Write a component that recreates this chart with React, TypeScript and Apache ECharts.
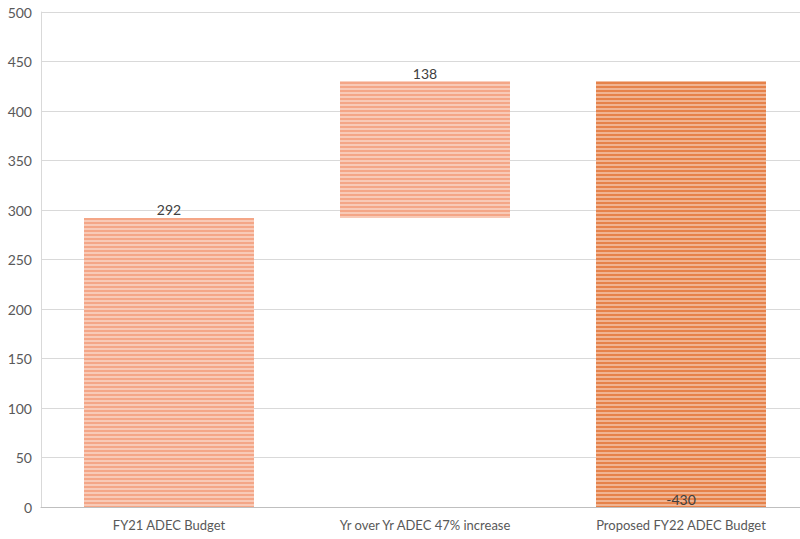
import React, { useEffect, useRef } from "react";
import * as echarts from "echarts";

const categories = ["FY21 ADEC Budget", "Yr over Yr ADEC 47% increase", "Proposed FY22 ADEC Budget"];
const baseValues = [0, 292, 0];
const barValues = [292, 138, 430];
const topLabels = ["292", "138", ""];
const bottomLabels = ["", "", "-430"];
const yTicks = { min: 0, max: 500, interval: 50 };

const lightFill = "#F4A687";
const darkFill = "#E6824A";

export default function App() {
  const ref = useRef<HTMLDivElement>(null);
  useEffect(() => {
    if (!ref.current) return;
    const chart = echarts.init(ref.current, null, { renderer: "svg" });
    const stripes = {
      symbol: "rect",
      symbolSize: 1,
      dashArrayX: [1, 0],
      dashArrayY: [2, 2],
      color: "rgba(255,255,255,0.4)",
      rotation: 0,
    };
    chart.setOption({
      animation: false,
      textStyle: { fontFamily: "Lato, 'Open Sans', sans-serif" },
      grid: { left: 41, right: 0, top: 12, bottom: 32, containLabel: false },
      xAxis: {
        type: "category",
        data: categories,
        axisLine: { lineStyle: { color: "#BFBFBF", width: 1 } },
        axisTick: { show: false },
        axisLabel: { color: "#595959", fontSize: 13, margin: 11 },
      },
      yAxis: {
        type: "value",
        min: yTicks.min,
        max: yTicks.max,
        interval: yTicks.interval,
        axisLine: { show: true, lineStyle: { color: "#D9D9D9" } },
        axisTick: { show: false },
        splitLine: { lineStyle: { color: "#D9D9D9" } },
        axisLabel: { color: "#595959", fontSize: 14, margin: 9 },
      },
      series: [
        {
          type: "bar",
          stack: "w",
          data: baseValues,
          barWidth: "66.4%",
          itemStyle: { color: "transparent" },
          silent: true,
        },
        {
          type: "bar",
          stack: "w",
          barWidth: "66.4%",
          data: barValues.map((v, i) => ({
            value: v,
            itemStyle: {
              color: i === 2 ? darkFill : lightFill,
              decal: stripes,
            },
            label: {
              show: true,
              position: i === 2 ? "insideBottom" : "top",
              distance: 1,
              formatter: () => (i === 2 ? bottomLabels[i] : topLabels[i]),
              color: "#404040",
              fontSize: 14,
            },
          })),
        },
      ],
      aria: { enabled: false, decal: { show: false } },
    });
    return () => chart.dispose();
  }, []);
  return (
    <div
      style={{ position: "fixed", left: 0, top: 0, width: 800, height: 539, overflow: "hidden", background: "#fff" }}
    >
      <div ref={ref} style={{ width: 809, height: 539 }} />
    </div>
  );
}
